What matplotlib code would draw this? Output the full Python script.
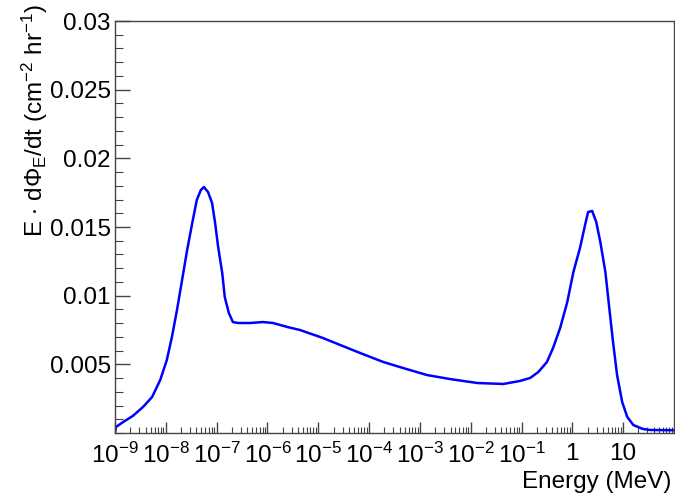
import matplotlib
matplotlib.use("Agg")
import matplotlib.pyplot as plt
from matplotlib.ticker import FixedLocator, LogLocator, NullFormatter, MultipleLocator
import numpy as np

plt.rcParams["font.family"] = ["Liberation Sans", "DejaVu Sans"]
plt.rcParams["mathtext.fontset"] = "custom"
plt.rcParams["mathtext.rm"] = "Liberation Sans"
plt.rcParams["mathtext.it"] = "Liberation Sans:italic"
plt.rcParams["mathtext.bf"] = "Liberation Sans:bold"
plt.rcParams["mathtext.sf"] = "Liberation Sans"
plt.rcParams["mathtext.default"] = "regular"

# Neutron lethargy spectrum: log10(E / MeV) and E*dPhi/dt
log_energy = [-9.0, -8.98, -8.84, -8.65, -8.45, -8.27, -8.11, -7.98, -7.88, -7.78,
              -7.68, -7.58, -7.48, -7.39, -7.31, -7.25, -7.17, -7.09, -7.03, -6.97,
              -6.89, -6.84, -6.76, -6.68, -6.58, -6.34, -6.09, -5.89, -5.61, -5.36,
              -4.91, -4.57, -4.18, -3.72, -3.33, -2.86, -2.41, -1.87, -1.36, -1.03,
              -0.83, -0.67, -0.50, -0.38, -0.24, -0.10, 0.02, 0.15, 0.25, 0.31,
              0.39, 0.47, 0.55, 0.65, 0.72, 0.80, 0.88, 0.98, 1.08, 1.20,
              1.39, 1.53, 2.0]
flux = [0.00005, 0.00044, 0.00080, 0.00124, 0.00189, 0.00262, 0.00386, 0.00532, 0.00699, 0.00896,
        0.01114, 0.01333, 0.01529, 0.01697, 0.01770, 0.01791, 0.01755, 0.01675, 0.01529, 0.01354,
        0.01165, 0.00990, 0.00874, 0.00808, 0.00801, 0.00801, 0.00808, 0.00801, 0.00772, 0.00750,
        0.00692, 0.00641, 0.00583, 0.00517, 0.00473, 0.00422, 0.00393, 0.00364, 0.00357, 0.00379,
        0.00401, 0.00444, 0.00517, 0.00619, 0.00765, 0.00954, 0.01172, 0.01347, 0.01515, 0.01609,
        0.01617, 0.01536, 0.01391, 0.01172, 0.00932, 0.00663, 0.00422, 0.00226, 0.00117, 0.00058,
        0.00029, 0.00022, 0.00020]

x_tick_exponents = [-9, -8, -7, -6, -5, -4, -3, -2, -1, 0, 1]
x_tick_labels = [r"$10^{-9}$", r"$10^{-8}$", r"$10^{-7}$", r"$10^{-6}$", r"$10^{-5}$",
                 r"$10^{-4}$", r"$10^{-3}$", r"$10^{-2}$", r"$10^{-1}$", "1", "10"]
y_ticks = [0.005, 0.01, 0.015, 0.02, 0.025, 0.03]
y_tick_labels = ["0.005", "0.01", "0.015", "0.02", "0.025", "0.03"]

energy = 10.0 ** np.array(log_energy)

fig = plt.figure(figsize=(6.75, 4.96), dpi=100)
ax = fig.add_axes([115 / 675, 1 - 433 / 496, 559 / 675, 412 / 496])

ax.plot(energy, flux, color="#0000ff", lw=1.8, solid_joinstyle="round",
        solid_capstyle="round")

ax.set_xscale("log")
ax.set_xlim(1e-9, 1e2)
ax.set_ylim(0, 0.03)

ax.xaxis.set_major_locator(FixedLocator([10.0 ** e for e in x_tick_exponents]))
ax.set_xticklabels(x_tick_labels)
ax.xaxis.set_minor_locator(LogLocator(base=10, subs=np.arange(2, 10), numticks=30))
ax.xaxis.set_minor_formatter(NullFormatter())

ax.yaxis.set_major_locator(FixedLocator(y_ticks))
ax.set_yticklabels(y_tick_labels)
ax.yaxis.set_minor_locator(MultipleLocator(0.001))

frame_color = "#444444"
for s in ax.spines.values():
    s.set_color(frame_color)
    s.set_linewidth(1.0)

ax.tick_params(axis="both", which="both", direction="in", color=frame_color,
               top=False, right=False, labelsize=17.5, labelcolor="black")
ax.tick_params(axis="x", which="major", length=8, width=1.0, pad=7)
ax.tick_params(axis="x", which="minor", length=4.5, width=0.8)
ax.tick_params(axis="y", which="major", length=11, width=1.0, pad=3)
ax.tick_params(axis="y", which="minor", length=5.5, width=0.8)

fig.text(0.995, 1 - 482 / 496, "Energy (MeV)", ha="right", va="center", fontsize=17.5)
fig.text(35 / 675, 1 - 4 / 496,
         r"E $\cdot$ d$\Phi_{E}$/dt (cm$^{-2}$ hr$^{-1}$)",
         rotation=90, ha="center", va="top", fontsize=17.5)

fig.savefig("out.png", dpi=100)
